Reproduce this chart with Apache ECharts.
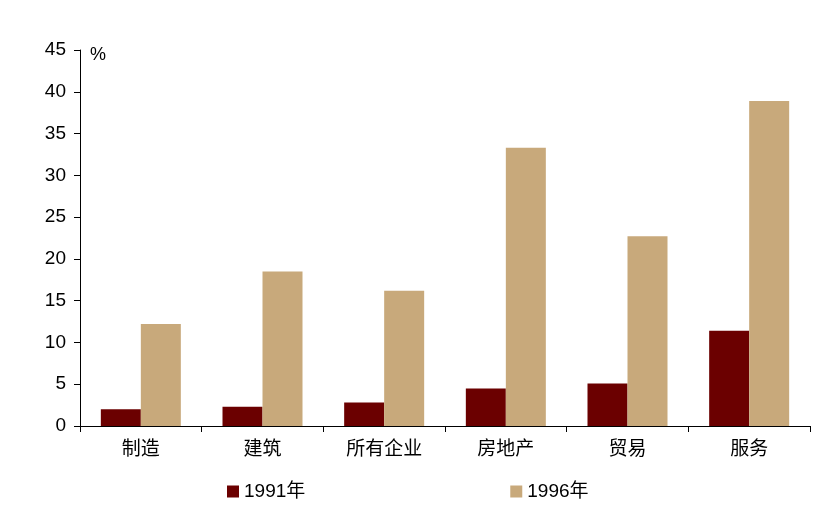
<!DOCTYPE html>
<html><head><meta charset="utf-8">
<script src="https://cdn.jsdelivr.net/npm/echarts@6/dist/echarts.min.js"></script>
<style>html,body{margin:0;padding:0;background:#fff}</style>
</head><body>
<div id="c" style="width:836px;height:528px"></div>
<script>
const categories = ['制造','建筑','所有企业','房地产','贸易','服务'];
const s1991 = [2.0, 2.3, 2.8, 4.5, 5.1, 11.4];
const s1996 = [12.2, 18.5, 16.2, 33.3, 22.7, 38.9];
const yTicks = [0,5,10,15,20,25,30,35,40,45];
const font = 'Liberation Sans, Noto Sans CJK SC, sans-serif';
const chart = echarts.init(document.getElementById('c'));
chart.setOption({
  animation:false,
  textStyle:{fontFamily:font},
  grid:{left:80,right:26,top:50,bottom:102},
  legend:{bottom:22,left:222,itemGap:205,itemWidth:12,itemHeight:12,icon:'rect',
    textStyle:{fontSize:19,color:'#000',fontFamily:font},
    data:['1991年','1996年']},
  graphic:[{type:'text',left:90,top:46,style:{text:'%',fontSize:18,fill:'#000',fontFamily:font}}],
  xAxis:{type:'category',data:categories,
    axisLine:{lineStyle:{color:'#000'}},
    axisTick:{show:true,length:6,lineStyle:{color:'#000'}},
    axisLabel:{fontSize:19,color:'#000',margin:14}},
  yAxis:{type:'value',min:0,max:45,interval:5,
    axisLine:{show:true,lineStyle:{color:'#000'}},
    axisTick:{show:true,inside:false,length:6,lineStyle:{color:'#000'}},
    splitLine:{show:false},
    axisLabel:{fontSize:19,color:'#000',margin:14,
      formatter:v=>yTicks.includes(v)?String(v):''}},
  series:[
    {name:'1991年',type:'bar',data:s1991,barWidth:40,barGap:'0%',itemStyle:{color:'#6b0000'}},
    {name:'1996年',type:'bar',data:s1996,barWidth:40,barGap:'0%',itemStyle:{color:'#c8a97b'}}
  ]
});
</script>
</body></html>
